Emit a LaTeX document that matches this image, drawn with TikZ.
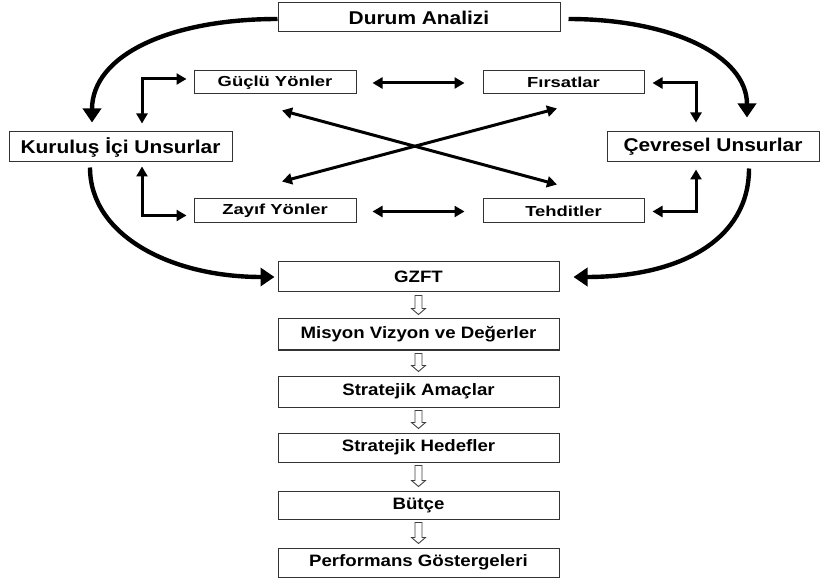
\documentclass[tikz,border=0pt]{standalone}
\usepackage{fontspec}
\newfontfamily\fa[FakeStretch=1.13]{Liberation Sans}
\newfontfamily\fb[FakeStretch=1.27]{Liberation Sans}
\usetikzlibrary{arrows.meta,calc}
\newcommand\hollowarrow[2]{%
  \draw[hol] ($(#1.south)+(-3.5,3)$) -- ($(#1.south)+(3.5,3)$) -- ($(#2.north)+(3.5,-10)$) -- ($(#2.north)+(7,-10)$) -- ($(#2.north)+(0,-4)$) -- ($(#2.north)+(-7,-10)$) -- ($(#2.north)+(-3.5,-10)$) -- cycle;}
\begin{document}
\begin{tikzpicture}[x=1pt,y=-1pt,
 box/.style={draw=black!80, line width=1pt, fill=white, inner sep=0pt, align=center},
 bigbox/.style={box, font=\fa\bfseries\fontsize{18.5}{20}\selectfont},
 midbox/.style={box, minimum width=281pt, font=\fa\bfseries\fontsize{16.5}{18}\selectfont},
 smallbox/.style={box, minimum width=162pt, minimum height=23pt, font=\fb\bfseries\fontsize{14.5}{16}\selectfont},
 curv/.style={line width=4.4pt, -{Triangle[length=14pt,width=18pt]}},
 conn/.style={line width=3pt, {Triangle[length=10pt,width=11pt]}-{Triangle[length=10pt,width=11pt]}},
 hol/.style={draw=black!75, line width=0.9pt, fill=white},
]
\useasboundingbox[fill=white] (0,0) rectangle (820,580);

\node[bigbox, minimum width=282pt, minimum height=29pt] (da) at (419,17.5) {Durum Analizi};
\node[smallbox] (gy) at (275,82.5) {Güçlü Yönler};
\node[smallbox, minimum width=161pt] (fi) at (563.5,82.5) {Fırsatlar};
\node[bigbox, minimum width=223pt, minimum height=30pt] (ki) at (120.5,147) {Kuruluş İçi Unsurlar};
\node[bigbox, minimum width=212pt, minimum height=30pt] (cu) at (713,147) {Çevresel Unsurlar};
\node[smallbox, minimum height=24pt] (zy) at (275,211) {Zayıf Yönler};
\node[smallbox, minimum width=161pt, minimum height=24pt] (te) at (563.5,211) {Tehditler};

\node[midbox, minimum height=30pt] (gz) at (418.5,277) {GZFT};
\node[midbox, minimum height=31pt] (mv) at (418.5,334.5) {Misyon Vizyon ve Değerler};
\node[midbox, minimum height=31pt] (sa) at (418.5,391.5) {Stratejik Amaçlar};
\node[midbox, minimum height=29pt] (sh) at (418.5,447.5) {Stratejik Hedefler};
\node[midbox, minimum height=28pt] (bu) at (418.5,505) {Bütçe};
\node[midbox, minimum height=29pt] (pg) at (418.5,562.5) {Performans Göstergeleri};

% big curved arrows
\draw[curv] ($(da.west)+(0,1.5)$) .. controls (170,19) and (92,55) .. ($(ki.north)+(-28.5,-9)$);
\draw[curv] ($(da.east)+(8,1.5)$) .. controls (670,19) and (747,55) .. ($(cu.north)+(34,-14)$);
\draw[curv] ($(ki.south)+(-30.5,5)$) .. controls (90,235) and (170,277) .. ($(gz.west)+(-3,0)$);
\draw[curv] ($(cu.south)+(36,6)$) .. controls (749,240) and (680,277) .. ($(gz.east)+(14,0)$);

% elbow connectors
\draw[conn] ($(gy.west)+(-7,-3.5)$) -| ($(ki.north)+(21.5,-8)$);
\draw[conn] ($(zy.west)+(-7,4.5)$) -| ($(ki.south)+(21.5,4)$);
\draw[conn] ($(fi.east)+(8,0.5)$) -| ($(cu.north)+(-17,-9)$);
\draw[conn] ($(te.east)+(8,0.5)$) -| ($(cu.south)+(-17,7)$);

% horizontal double arrows
\draw[conn] ($(gy.east)+(16,0.5)$) -- ($(fi.west)+(-18,0.5)$);
\draw[conn] ($(zy.east)+(16,0.5)$) -- ($(te.west)+(-18,0.5)$);

% cross arrows
\draw[conn] ($(gy.south)+(7,16)$) -- ($(te.north)+(-6.5,-14)$);
\draw[conn] ($(zy.north)+(7,-17)$) -- ($(fi.south)+(-6.5,14)$);

% hollow arrows
\hollowarrow{gz}{mv}
\hollowarrow{mv}{sa}
\hollowarrow{sa}{sh}
\hollowarrow{sh}{bu}
\hollowarrow{bu}{pg}
\end{tikzpicture}
\end{document}
